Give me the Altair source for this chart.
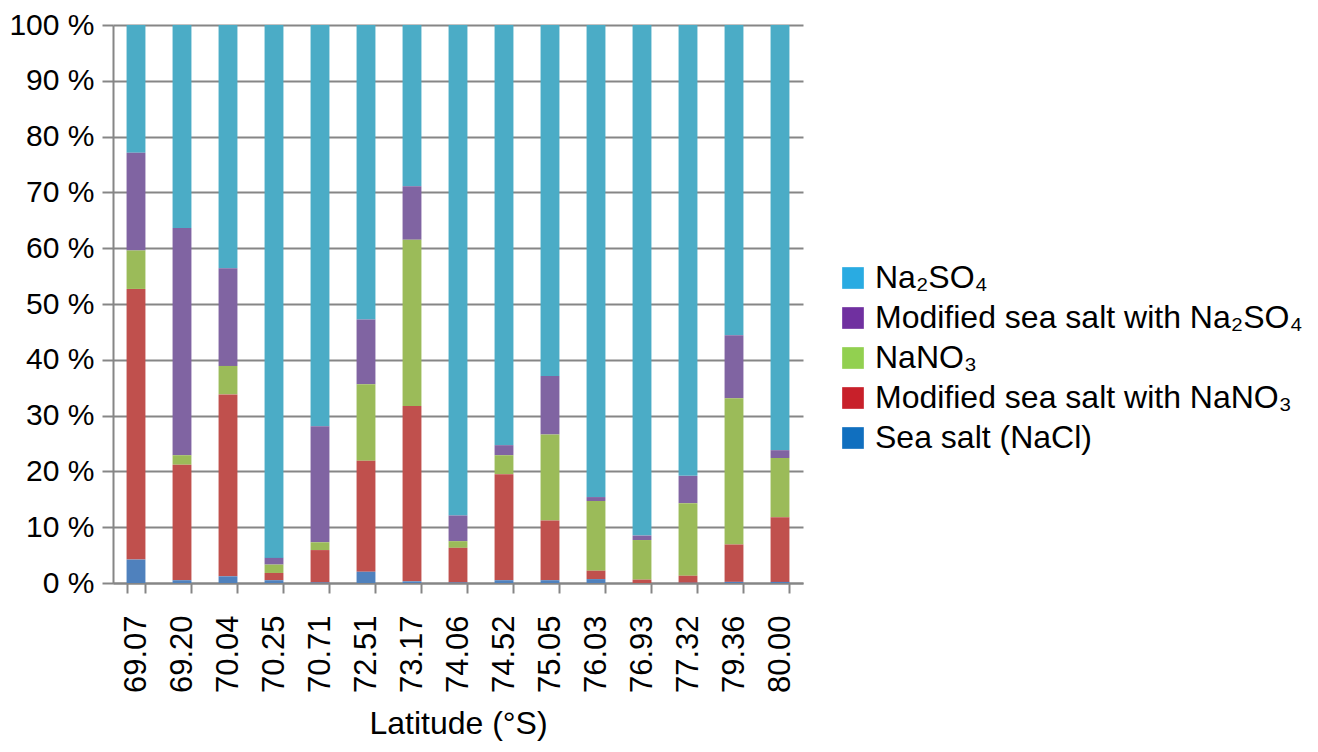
import altair as alt
import pandas as pd

latitudes = ["69.07", "69.20", "70.04", "70.25", "70.71", "72.51", "73.17", "74.06",
             "74.52", "75.05", "76.03", "76.93", "77.32", "79.36", "80.00"]

sea_salt =        [4.2, 0.5, 1.2, 0.5, 0.1, 2.0, 0.3, 0.1, 0.5, 0.5, 0.7, 0.0, 0.05, 0.2, 0.2]
mod_nano3 =       [48.5, 20.7, 32.6, 1.3, 5.8, 19.9, 31.4, 6.2, 19.0, 10.7, 1.5, 0.6, 1.25, 6.7, 11.6]
nano3 =           [6.9, 1.7, 5.1, 1.5, 1.4, 13.7, 29.8, 1.2, 3.4, 15.4, 12.5, 7.1, 13.0, 26.2, 10.6]
mod_na2so4 =      [17.5, 40.7, 17.5, 1.2, 20.8, 11.6, 9.6, 4.6, 1.8, 10.5, 0.7, 0.8, 4.9, 11.3, 1.4]
na2so4 =          [22.9, 36.4, 43.6, 95.5, 71.9, 52.8, 28.9, 87.9, 75.3, 62.9, 84.6, 91.5, 80.8, 55.6, 76.2]

series_names = ["Na₂SO₄", "Modified sea salt with Na₂SO₄", "NaNO₃",
                "Modified sea salt with NaNO₃", "Sea salt (NaCl)"]
series_values = [na2so4, mod_na2so4, nano3, mod_nano3, sea_salt]
bar_colors = ["#4BACC6", "#8064A2", "#9BBB59", "#C0504D", "#4F81BD"]
legend_colors = ["#29ABE2", "#7030A0", "#92D050", "#C8202A", "#106FBF"]

rows = []
for si, (name, vals) in enumerate(zip(series_names, series_values)):
    for lat, v in zip(latitudes, vals):
        rows.append({"lat": lat, "series": name, "legend": name,
                     "value": v, "order": len(series_names) - si})
df = pd.DataFrame(rows)

FONT = "Liberation Sans"
GRAY = "#868686"

x_enc = alt.X("lat:N", sort=latitudes,
              scale=alt.Scale(paddingInner=0.59, paddingOuter=0.295),
              axis=alt.Axis(title="Latitude (°S)", labelAngle=-90, labelFontSize=31,
                            labelFont=FONT, labelColor="black", labelPadding=22,
                            titleFont=FONT, titleFontSize=32, titleFontWeight="normal",
                            titleColor="black", titlePadding=16,
                            tickBand="extent", tickSize=10, tickColor=GRAY,
                            tickWidth=2, domainColor=GRAY, domainWidth=2,
                            grid=False))
y_enc = alt.Y("value:Q", stack="normalize",
              scale=alt.Scale(domain=[0, 1], nice=False),
              axis=alt.Axis(title=None, values=[i / 10 for i in range(11)],
                            labelExpr="round(datum.value*100) + ' %'",
                            labelFontSize=30, labelFont=FONT, labelColor="black",
                            labelPadding=8, tickSize=11, tickColor=GRAY,
                            tickWidth=2, domainColor=GRAY, domainWidth=2,
                            grid=True, gridColor=GRAY, gridWidth=2))

bars = alt.Chart(df).mark_bar().encode(
    x=x_enc,
    y=y_enc,
    order=alt.Order("order:Q"),
    color=alt.Color("series:N", sort=series_names,
                    scale=alt.Scale(domain=series_names, range=bar_colors),
                    legend=None),
)

legend_layer = alt.Chart(df).mark_bar(opacity=0).encode(
    x=alt.X("lat:N", sort=latitudes),
    y=alt.Y("value:Q", stack="normalize"),
    order=alt.Order("order:Q"),
    color=alt.Color("legend:N", sort=series_names,
                    scale=alt.Scale(domain=series_names, range=legend_colors),
                    legend=alt.Legend(title=None, orient="none", legendX=724, legendY=237,
                                      symbolType="square", symbolSize=470,
                                      symbolOpacity=1, symbolStrokeWidth=0,
                                      labelFontSize=32, labelFont=FONT,
                                      labelColor="black", labelOffset=6,
                                      rowPadding=8, labelLimit=800)),
)

chart = alt.layer(bars, legend_layer).resolve_scale(color="independent").properties(
    width=690, height=558,
    autosize=alt.AutoSizeParams(type="none"),
    padding={"left": 105, "top": 17, "right": 507, "bottom": 161},
).configure_view(stroke=None)

chart.save("out.html", embed_options={"renderer": "svg", "actions": False})
